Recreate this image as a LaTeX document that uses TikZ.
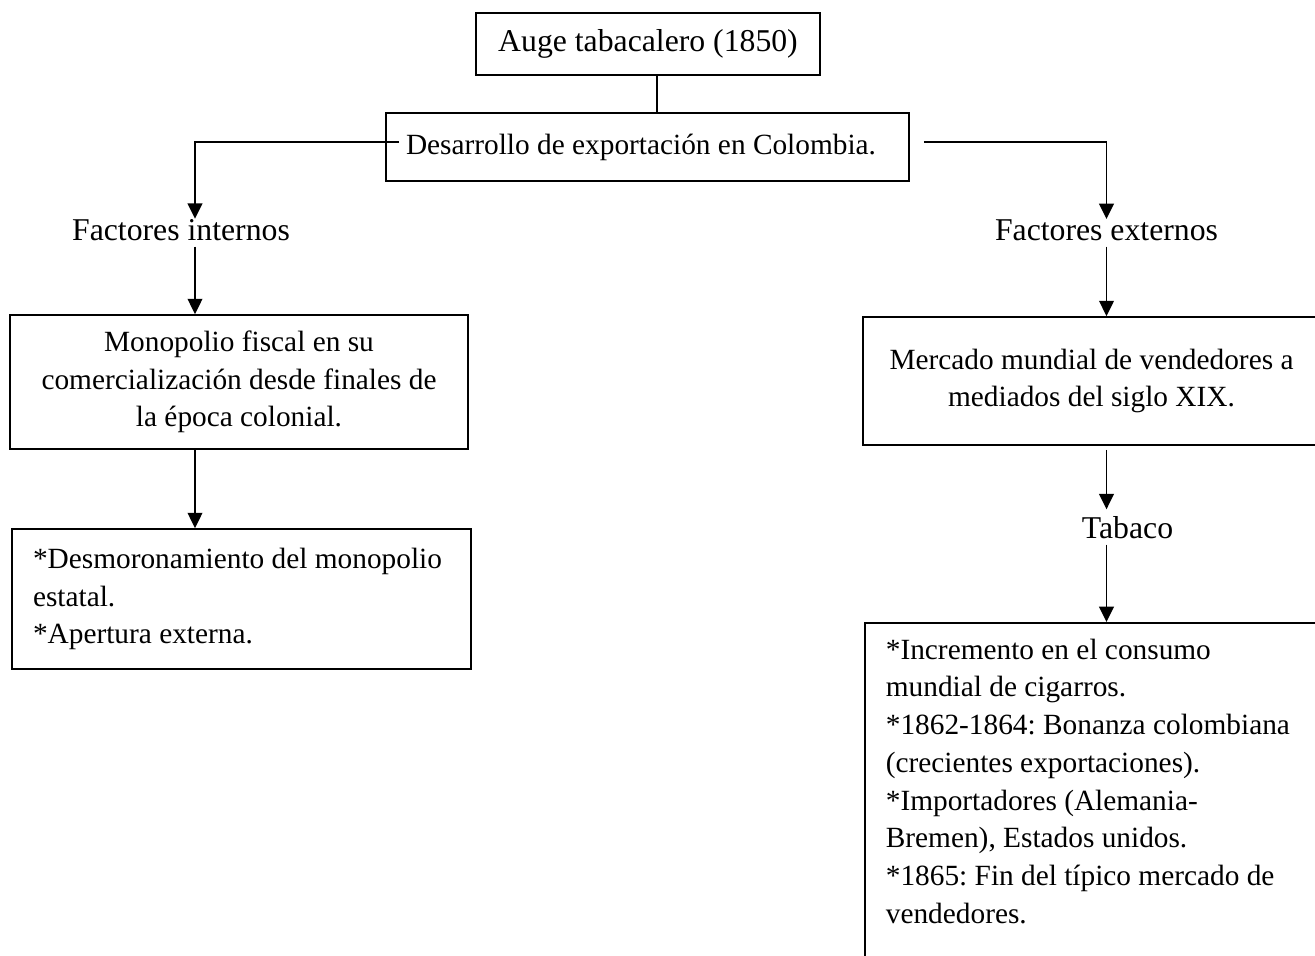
\documentclass[tikz,border=0pt]{standalone}
\usepackage{fontspec}
\setmainfont{Liberation Serif}
\usetikzlibrary{arrows.meta,calc}
\begin{document}
\frenchspacing
\begin{tikzpicture}[x=0.75pt,y=-0.75pt,
  boxnode/.style={draw=black,line width=1.3pt,inner ysep=0pt,font=\fontsize{22}{28.3}\selectfont},
  headtxt/.style={inner sep=0pt,anchor=base,font=\fontsize{23.8}{28.6}\selectfont},
  plain/.style={line width=1.4pt},
  arr/.style={line width=1.4pt,-{Triangle[width=11pt,length=11.5pt]}}]
\useasboundingbox (0,0) rectangle (1315,956);
% boxes
\node[boxnode,font=\fontsize{23.8}{28.6}\selectfont,minimum width=258pt,minimum height=46.5pt,inner xsep=0pt] (b1) at (648,44) {Auge tabacalero (1850)};
\node[boxnode,minimum width=392.25pt,minimum height=51pt,text width=362.25pt,align=flush left,inner xsep=15pt] (b2) at (647.5,147) {Desarrollo de exportación en Colombia.};
\node[boxnode,minimum width=343.5pt,minimum height=100.5pt,align=center] (b3) at (239,382) {Monopolio fiscal en su\\comercialización desde finales de\\la época colonial.};
\node[boxnode,minimum width=344.25pt,minimum height=105pt,text width=312.75pt,align=flush left,inner xsep=15.75pt] (b4) at (241.5,599) {*Desmoronamiento del monopolio\\{}estatal.\\{}*Apertura externa.};
\node[boxnode,minimum width=342.75pt,minimum height=96pt,align=center] (b5) at (1091.5,381) {Mercado mundial de vendedores a\\mediados del siglo XIX.};
\node[boxnode,anchor=north west,text width=330pt,align=flush left,inner xsep=15.75pt,inner ysep=12pt] (b6) at (864,622) {*Incremento en el consumo\\{}mundial de cigarros.\\{}*1862-1864: Bonanza colombiana\\{}(crecientes exportaciones).\\{}*Importadores (Alemania-\\{}Bremen), Estados unidos.\\{}*1865: Fin del típico mercado de\\{}vendedores.\rule[-40pt]{0pt}{0pt}};
% plain labels
\node[headtxt] (fi) at (181,240) {Factores internos};
\node[headtxt] (fe) at (1106.5,240) {Factores externos};
\node[headtxt] (tab) at (1127.5,538) {Tabaco};
% connectors
\coordinate (xm) at ([xshift=6.75pt]b1.south);
\draw[plain] (xm) -- (xm |- b2.north);
\draw[arr] ([xshift=10.5pt,yshift=3.75pt]b2.west) -| ([xshift=10.5pt]fi.north);
\draw[arr] ([xshift=10.5pt,yshift=3.75pt]b2.east) -| (fe.north);
\coordinate (xl) at ([xshift=10.5pt]fi.south);
\draw[arr,shorten <=4.5pt] (xl) -- (xl |- b3.north);
\draw[arr] (xl |- b3.south) -- (xl |- b4.north);
\draw[arr,shorten <=4.5pt] (fe.south) -- (fe.south |- b5.north);
\draw[arr,shorten <=3pt,shorten >=4.8pt] (fe.south |- b5.south) -- (fe.south |- tab.north);
\draw[arr,shorten <=4.5pt] (fe.south |- tab.south) -- (fe.south |- b6.north);
\end{tikzpicture}
\end{document}
